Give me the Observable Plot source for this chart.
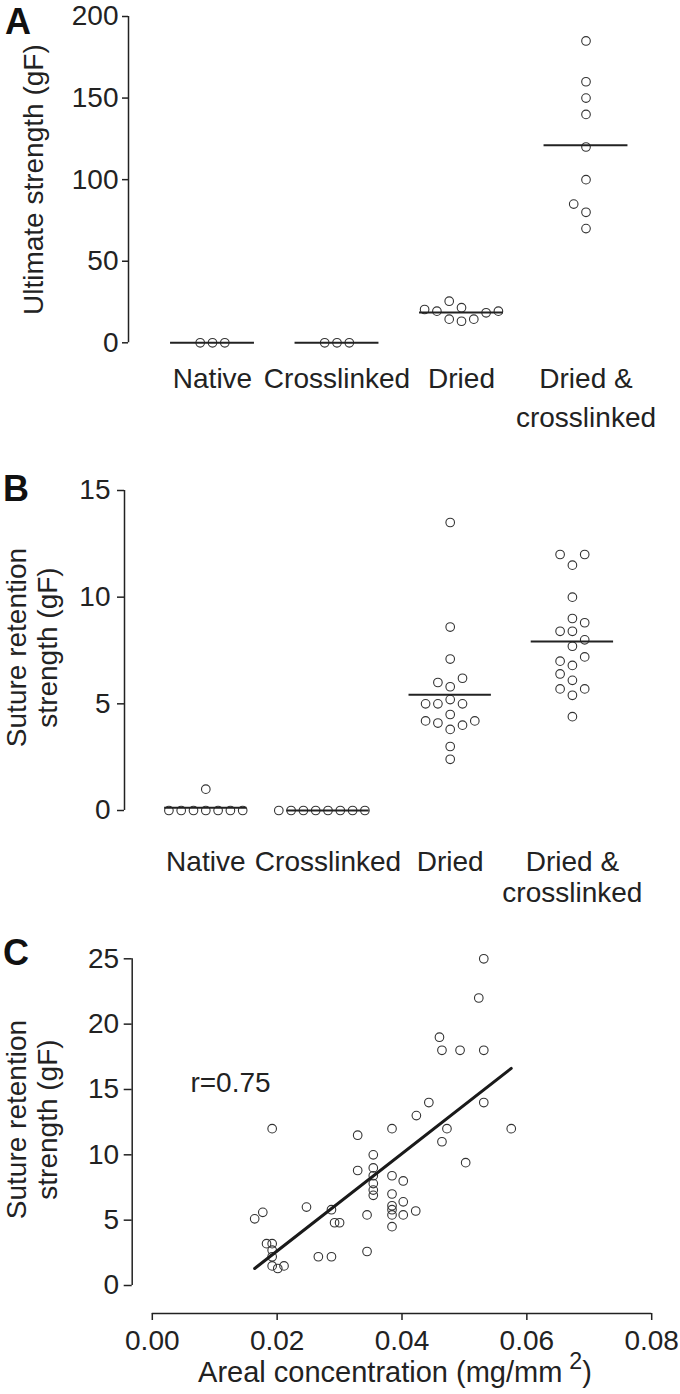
<!DOCTYPE html>
<html>
<head>
<meta charset="utf-8">
<script src="https://cdn.jsdelivr.net/npm/d3@7"></script>
<script src="https://cdn.jsdelivr.net/npm/@observablehq/plot@0.6"></script>
<style>
  body { margin: 0; background: #fff; }
  #wrap { position: relative; width: 680px; height: 1394px; font-family: 'Liberation Sans', Arial, Helvetica, sans-serif; color: #222; overflow: hidden; }
  .panel { position: absolute; left: 0; }
  .letter { position: absolute; font-weight: bold; font-size: 36px; line-height: 1; color: #111; }
  #xlabC { position: absolute; font-size: 29px; line-height: 1; text-align: center; white-space: nowrap; }
  #xlabC sup { font-size: 0.8em; line-height: 0; margin-left: 7px; vertical-align: 0.55em; }
</style>
</head>
<body>
<div id="wrap">
  <div class="panel" id="pA" style="top:0px"></div>
  <div class="panel" id="pB" style="top:460px"></div>
  <div class="panel" id="pC" style="top:930px"></div>
  <div class="letter" style="left:5px;top:4px">A</div>
  <div class="letter" style="left:3px;top:471px">B</div>
  <div class="letter" style="left:3px;top:935px">C</div>
  <div id="xlabC" style="left:145.3px;width:499.4px;top:1358px">Areal concentration (mg/mm<sup>2</sup>)</div>
</div>
<script>
// ---------- DATA ----------
const categories = ["Native", "Crosslinked", "Dried", "Dried &\ncrosslinked"];

// Panel A: ultimate strength (gF)
const ultimateNative = [0, 0, 0];
const ultimateCrosslinked = [0, 0, 0];
const ultimateDried = [21.5, 13.2, 25.5, 14.5, 14.5, 19.4, 18.4, 20.4, 19.4];
const ultimateDriedCrosslinked = [185, 160, 150, 140, 120, 100, 80, 70, 85];
const ticksA = [0, 50, 100, 150, 200];
const labelA = "Ultimate strength (gF)";

// Panel B: suture retention strength (gF)
const sutureNative = [1, 0, 0, 0, 0, 0, 0, 0];
const sutureCrosslinked = [0, 0, 0, 0, 0, 0, 0, 0];
const sutureDried = [13.5, 8.6, 7.1, 5.8, 6.0, 6.2, 5.2, 4.5, 3.8, 3.0, 2.4, 5.0, 5.0, 5.0, 4.1, 4.0, 4.2, 4.2];
const sutureDriedCrosslinked = [11.5, 12.0, 12.0, 10.0, 9.0, 8.4, 7.7, 6.8, 6.1, 5.4, 4.4, 8.4, 8.8, 8.0, 7.0, 7.2, 6.4, 5.7, 5.7];
const ticksB = [0, 5, 10, 15];
const labelSuture = "Suture retention\nstrength (gF)";

// Panel C: areal concentration vs suture retention strength
const arealConc = [0.0531, 0.0523, 0.0460, 0.0464, 0.0493, 0.0531, 0.0443, 0.0531, 0.0423,
  0.0192, 0.0384, 0.0472, 0.0575, 0.0329, 0.0464, 0.0354, 0.0502, 0.0329,
  0.0354, 0.0354, 0.0354, 0.0354, 0.0354,
  0.0384, 0.0384, 0.0384, 0.0384, 0.0384, 0.0384,
  0.0402, 0.0402, 0.0402,
  0.0422, 0.0344, 0.0287, 0.0247, 0.0292, 0.0300, 0.0344, 0.0266, 0.0287,
  0.0164, 0.0177, 0.0183, 0.0192, 0.0192, 0.0192, 0.0192, 0.0201, 0.0211];
const sutureStrengthC = [25.0, 22.0, 19.0, 18.0, 18.0, 18.0, 14.0, 14.0, 13.0,
  12.0, 12.0, 12.0, 12.0, 11.5, 11.0, 10.0, 9.4, 8.8,
  9.0, 8.4, 7.8, 7.3, 6.9,
  8.4, 7.0, 6.1, 5.8, 5.4, 4.5,
  8.0, 6.4, 5.4,
  5.7, 5.4, 5.8, 6.0, 4.8, 4.8, 2.6, 2.2, 2.2,
  5.1, 5.6, 3.2, 3.2, 2.7, 2.2, 1.5, 1.3, 1.5];
const ticksCx = [0, 0.02, 0.04, 0.06, 0.08];
const ticksCy = [0, 5, 10, 15, 20, 25];
const rLabel = "r=0.75";

// ---------- STYLE ----------
const font = "'Liberation Sans', Arial, Helvetica, sans-serif";
const ink = "#222";
const dotStroke = "#333";
const dotR = 4.3;

// Greedy column swarm (layout only): columns tried 0, -1, +1, -2, +2, ...
function swarmCols(values, pxPerUnit, minGap) {
  const placed = [];
  return values.map(v => {
    const y = v * pxPerUnit;
    for (let k = 0; ; k++) {
      const col = k === 0 ? 0 : (k % 2 ? -Math.ceil(k / 2) : Math.ceil(k / 2));
      if (!placed.some(p => p.col === col && Math.abs(p.y - y) < minGap)) {
        placed.push({col, y});
        return col;
      }
    }
  });
}

function groupPanel(o) {
  const {groups, yTicks, yMax, H, top, zeroPx, left, centers, tickSize, tickPadding, labelDy, labelLH, ylabel, ylabelDx, ylabelDy} = o;
  const pxPerUnit = (zeroPx - top) / yMax;
  const step = centers[1] - centers[0];
  const colUnit = 12.3 / step;
  const dots = [];
  groups.forEach((vals, i) => {
    const cols = swarmCols(vals, pxPerUnit, 12);
    vals.forEach((v, j) => dots.push({x: i + cols[j] * colUnit, y: v}));
  });
  const means = groups.map((vals, i) => ({i, m: d3.mean(vals)}));
  return Plot.plot({
    width: 680, height: H,
    marginTop: top, marginBottom: H - zeroPx, marginLeft: left, marginRight: 0,
    style: {fontFamily: font, fontSize: "28px", color: ink, background: "transparent", overflow: "visible"},
    x: {type: "linear", domain: [0, groups.length - 1], range: [centers[0], centers[0] + (groups.length - 1) * step], axis: null},
    y: {domain: [0, yMax], axis: null},
    marks: [
      Plot.ruleX([0], {y1: 0, y2: yMax, dx: left - centers[0], stroke: ink, strokeWidth: 1.5}),
      Plot.axisY(yTicks, {anchor: "left", tickSize, tickPadding, strokeWidth: 1.5, label: null}),
      Plot.dot(dots, {x: "x", y: "y", r: dotR, stroke: dotStroke, strokeWidth: 1.1, fill: "none"}),
      Plot.ruleY(means, {x1: d => d.i - 0.337, x2: d => d.i + 0.337, y: "m", stroke: ink, strokeWidth: 2}),
      Plot.text(categories, {x: (d, i) => i, frameAnchor: "bottom", lineAnchor: "top", textAnchor: "middle", dy: labelDy, lineHeight: labelLH, fill: ink}),
      Plot.text([ylabel], {frameAnchor: "left", textAnchor: "middle", lineAnchor: "middle", rotate: -90, dx: ylabelDx, dy: ylabelDy, lineHeight: 1.1, fill: ink})
    ]
  });
}

// Panel A
document.getElementById("pA").append(groupPanel({
  groups: [ultimateNative, ultimateCrosslinked, ultimateDried, ultimateDriedCrosslinked],
  yTicks: ticksA, yMax: 200, H: 460, top: 16, zeroPx: 342.3, left: 128,
  centers: [212, 336.5], tickSize: 6, tickPadding: 4,
  labelDy: 18, labelLH: 1.38, ylabel: labelA, ylabelDx: -95, ylabelDy: 0
}));

// Panel B
document.getElementById("pB").append(groupPanel({
  groups: [sutureNative, sutureCrosslinked, sutureDried, sutureDriedCrosslinked],
  yTicks: ticksB, yMax: 15, H: 470, top: 30, zeroPx: 350, left: 124,
  centers: [205.3, 327.5], tickSize: 7, tickPadding: 7,
  labelDy: 38, labelLH: 1.12, ylabel: labelSuture, ylabelDx: -92.5, ylabelDy: -3
}));

// Panel C
const scatter = arealConc.map((x, i) => ({x, y: sutureStrengthC[i]}));
document.getElementById("pC").append(Plot.plot({
  width: 680, height: 464,
  marginTop: 28.3, marginBottom: 81, marginLeft: 131.7, marginRight: 0,
  style: {fontFamily: font, fontSize: "28px", color: ink, background: "transparent", overflow: "visible"},
  x: {domain: [0, 0.08], range: [151.8, 651.2], axis: null},
  y: {domain: [0, 25], range: [355, 28.3], axis: null},
  marks: [
    Plot.ruleX([0], {y1: 0, y2: 25, dx: 131.7 - 151.8, stroke: ink, strokeWidth: 1.5}),
    Plot.ruleY([0], {x1: 0, x2: 0.08, dy: 383 - 355, stroke: ink, strokeWidth: 1.5}),
    Plot.axisY(ticksCy, {anchor: "left", tickSize: 8, tickPadding: 5, strokeWidth: 1.5, label: null}),
    Plot.axisX(ticksCx, {anchor: "bottom", tickSize: 7, tickPadding: 10, strokeWidth: 1.5, tickFormat: d3.format(".2f"), label: null}),
    Plot.dot(scatter, {x: "x", y: "y", r: dotR, stroke: dotStroke, strokeWidth: 1.1, fill: "none"}),
    Plot.linearRegressionY(scatter, {x: "x", y: "y", ci: 0, stroke: "#1a1a1a", strokeWidth: 3}),
    Plot.text([rLabel], {x: 0.0061, y: 15.5, textAnchor: "start", fill: ink}),
    Plot.text([labelSuture], {frameAnchor: "left", textAnchor: "middle", lineAnchor: "middle", rotate: -90, dx: -100.7, dy: -16.6, lineHeight: 1.1, fill: ink})
  ]
}));
</script>
</body>
</html>
